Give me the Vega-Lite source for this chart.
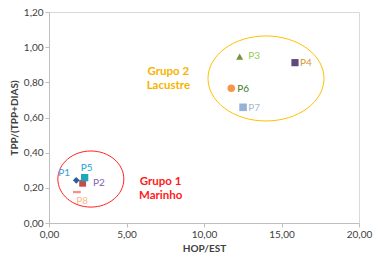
{
  "$schema": "https://vega.github.io/schema/vega-lite/v6.json",
  "width": 310,
  "height": 211,
  "autosize": {"type": "none"},
  "padding": {"left": 49, "top": 12, "right": 15, "bottom": 38},
  "config": {
    "locale": {"number": {"decimal": ",", "thousands": ".", "grouping": [3], "currency": ["", ""]}},
    "font": "Lato",
    "view": {"stroke": "#d9d9d9", "strokeWidth": 1},
    "axis": {"grid": false, "domainColor": "#bfbfbf", "tickColor": "#bfbfbf", "labelColor": "#404040", "labelFontSize": 10, "titleFontSize": 10, "titleFontWeight": "bold", "titleColor": "#404040", "tickSize": 4, "labelFont": "Lato", "titleFont": "Lato", "labelOverlap": false, "labelFlush": false, "labelBound": false, "format": ".2f"}
  },
  "datasets": {
    "pts": [
      {"name": "P1", "x": 1.76, "y": 0.243, "lx": 0.6, "ly": 0.284},
      {"name": "P2", "x": 2.17, "y": 0.226, "lx": 2.84, "ly": 0.225},
      {"name": "P3", "x": 12.3, "y": 0.946, "lx": 12.85, "ly": 0.95},
      {"name": "P4", "x": 15.87, "y": 0.912, "lx": 16.2, "ly": 0.908},
      {"name": "P5", "x": 2.3, "y": 0.258, "lx": 2.05, "ly": 0.313},
      {"name": "P6", "x": 11.76, "y": 0.766, "lx": 12.15, "ly": 0.762},
      {"name": "P7", "x": 12.52, "y": 0.658, "lx": 12.85, "ly": 0.654},
      {"name": "P8", "x": 1.8, "y": 0.176, "lx": 1.75, "ly": 0.125}
    ],
    "groups": [
      {"grupo": "Grupo 1", "cx": 2.7, "cy": 0.25, "tx": 7.2, "ty": 0.235, "label": "Grupo 1\nMarinho"},
      {"grupo": "Grupo 2", "cx": 14.0, "cy": 0.822, "tx": 7.7, "ty": 0.86, "label": "Grupo 2\nLacustre"}
    ]
  },
  "layer": [
    {
      "data": {"name": "groups"},
      "transform": [{"filter": "datum.grupo == 'Grupo 1'"}],
      "mark": {"type": "point", "filled": false, "stroke": "#ff2020", "strokeWidth": 1, "opacity": 1, "size": 4356,
               "shape": "M -1 0 A 1 0.85 0 1 1 1 0 A 1 0.85 0 1 1 -1 0 Z"},
      "encoding": {
        "x": {"field": "cx", "type": "quantitative", "title": "HOP/EST", "scale": {"domain": [0, 20]},
              "axis": {"values": [0, 5, 10, 15, 20], "tickCount": 10}},
        "y": {"field": "cy", "type": "quantitative", "title": "TPP/(TPP+DIAS)", "scale": {"domain": [0, 1.2]},
              "axis": {"values": [0, 0.2, 0.4, 0.6, 0.8, 1.0, 1.2], "tickCount": 10}}
      }
    },
    {
      "data": {"name": "groups"},
      "transform": [{"filter": "datum.grupo == 'Grupo 2'"}],
      "mark": {"type": "point", "filled": false, "stroke": "#ffc000", "strokeWidth": 1, "opacity": 1, "size": 13456,
               "shape": "M -1 0 A 1 0.733 0 1 1 1 0 A 1 0.733 0 1 1 -1 0 Z"},
      "encoding": {
        "x": {"field": "cx", "type": "quantitative", "title": "HOP/EST"},
        "y": {"field": "cy", "type": "quantitative", "title": "TPP/(TPP+DIAS)"}
      }
    },
    {
      "data": {"name": "groups"},
      "mark": {"type": "text", "fontWeight": "bold", "fontSize": 11.5, "lineBreak": "\n", "lineHeight": 14, "align": "center", "baseline": "middle"},
      "encoding": {
        "x": {"field": "tx", "type": "quantitative", "title": "HOP/EST"},
        "y": {"field": "ty", "type": "quantitative", "title": "TPP/(TPP+DIAS)"},
        "text": {"field": "label"},
        "color": {"field": "grupo", "type": "nominal", "legend": null,
                  "scale": {"domain": ["Grupo 1", "Grupo 2"], "range": ["#ff1a1a", "#f5b400"]}}
      }
    },
    {
      "data": {"name": "pts"},
      "mark": {"type": "point", "filled": true, "opacity": 1},
      "encoding": {
        "x": {"field": "x", "type": "quantitative", "title": "HOP/EST"},
        "y": {"field": "y", "type": "quantitative", "title": "TPP/(TPP+DIAS)"},
        "fill": {"field": "name", "type": "nominal", "legend": null,
                  "scale": {"domain": ["P1","P2","P3","P4","P5","P6","P7","P8"],
                            "range": ["#2a5d9c","#c0504d","#77933c","#604a7b","#1ea7bb","#f79646","#95b3d7","#ff8c8c"]}},
        "shape": {"field": "name", "type": "nominal", "legend": null,
                  "scale": {"domain": ["P1","P2","P3","P4","P5","P6","P7","P8"],
                            "range": ["diamond","square","triangle-up","square","square","circle","square","M -1 -0.3 L 1 -0.3 L 1 0.3 L -1 0.3 Z"]}},
        "size": {"field": "name", "type": "nominal", "legend": null,
                 "scale": {"domain": ["P1","P2","P3","P4","P5","P6","P7","P8"],
                           "range": [45, 60, 75, 64, 60, 64, 60, 20]}}
      }
    },
    {
      "data": {"name": "pts"},
      "mark": {"type": "text", "fontSize": 10, "align": "left", "baseline": "middle"},
      "encoding": {
        "x": {"field": "lx", "type": "quantitative", "title": "HOP/EST"},
        "y": {"field": "ly", "type": "quantitative", "title": "TPP/(TPP+DIAS)"},
        "text": {"field": "name"},
        "color": {"field": "name", "type": "nominal", "legend": null,
                  "scale": {"domain": ["P1","P2","P3","P4","P5","P6","P7","P8"],
                            "range": ["#3a9ee0","#7e5fae","#92d050","#d9962e","#1aa3d0","#3e7a22","#a8b8cc","#fbb98a"]}}
      }
    }
  ],
  "resolve": {"scale": {"color": "independent"}}
}
